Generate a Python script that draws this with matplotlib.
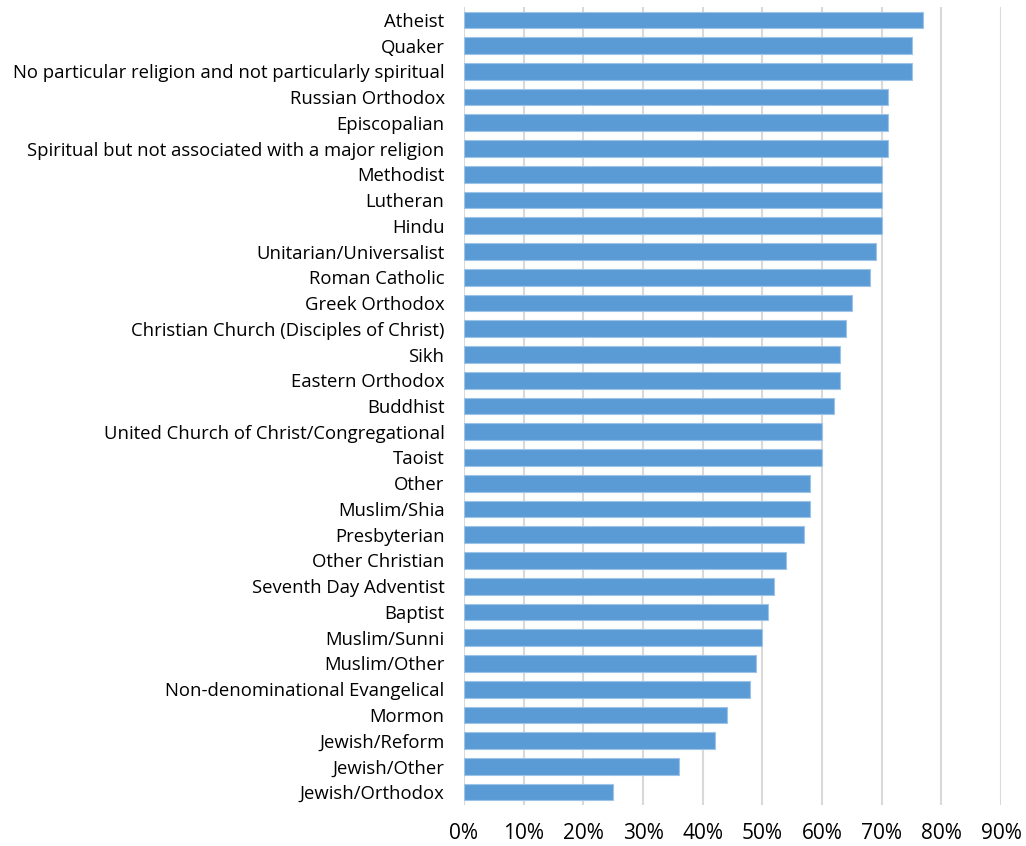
import matplotlib
matplotlib.use("Agg")
import matplotlib.pyplot as plt
from matplotlib.ticker import FuncFormatter

categories = [
    "Atheist", "Quaker", "No particular religion and not particularly spiritual",
    "Russian Orthodox", "Episcopalian", "Spiritual but not associated with a major religion",
    "Methodist", "Lutheran", "Hindu", "Unitarian/Universalist", "Roman Catholic",
    "Greek Orthodox", "Christian Church (Disciples of Christ)", "Sikh", "Eastern Orthodox",
    "Buddhist", "United Church of Christ/Congregational", "Taoist", "Other", "Muslim/Shia",
    "Presbyterian", "Other Christian", "Seventh Day Adventist", "Baptist", "Muslim/Sunni",
    "Muslim/Other", "Non-denominational Evangelical", "Mormon", "Jewish/Reform",
    "Jewish/Other", "Jewish/Orthodox",
]
values = [77, 75, 75, 71, 71, 71, 70, 70, 70, 69, 68, 65, 64, 63, 63, 62, 60, 60,
          58, 58, 57, 54, 52, 51, 50, 49, 48, 44, 42, 36, 25]
xticks = [0, 10, 20, 30, 40, 50, 60, 70, 80, 90]

plt.rcParams['font.family'] = ['Open Sans', 'DejaVu Sans']

fig = plt.figure(figsize=(10.26, 8.46), dpi=100)
ax = fig.add_axes([464/1026, 1 - 805/846, (1001-464)/1026, (805-7)/846])

n = len(categories)
ypos = list(range(n))
ax.barh(ypos, values, height=0.65, color="#5B9BD5", edgecolor="#9DC3E6",
        linewidth=0.8, zorder=3)
ax.set_yticks(ypos)
ax.set_yticklabels(categories, fontsize=13.3)
ax.set_ylim(n - 0.5, -0.5)
ax.set_xlim(0, 90)
ax.set_xticks(xticks)
ax.xaxis.set_major_formatter(FuncFormatter(lambda v, p: f"{int(v)}%"))
ax.tick_params(axis='x', labelsize=15, length=0, pad=13)
ax.tick_params(axis='y', length=0, pad=14)
ax.grid(axis='x', color="#D9D9D9", linewidth=1.5, zorder=0)
for s in ax.spines.values():
    s.set_visible(False)

fig.savefig("out.png", dpi=100)
